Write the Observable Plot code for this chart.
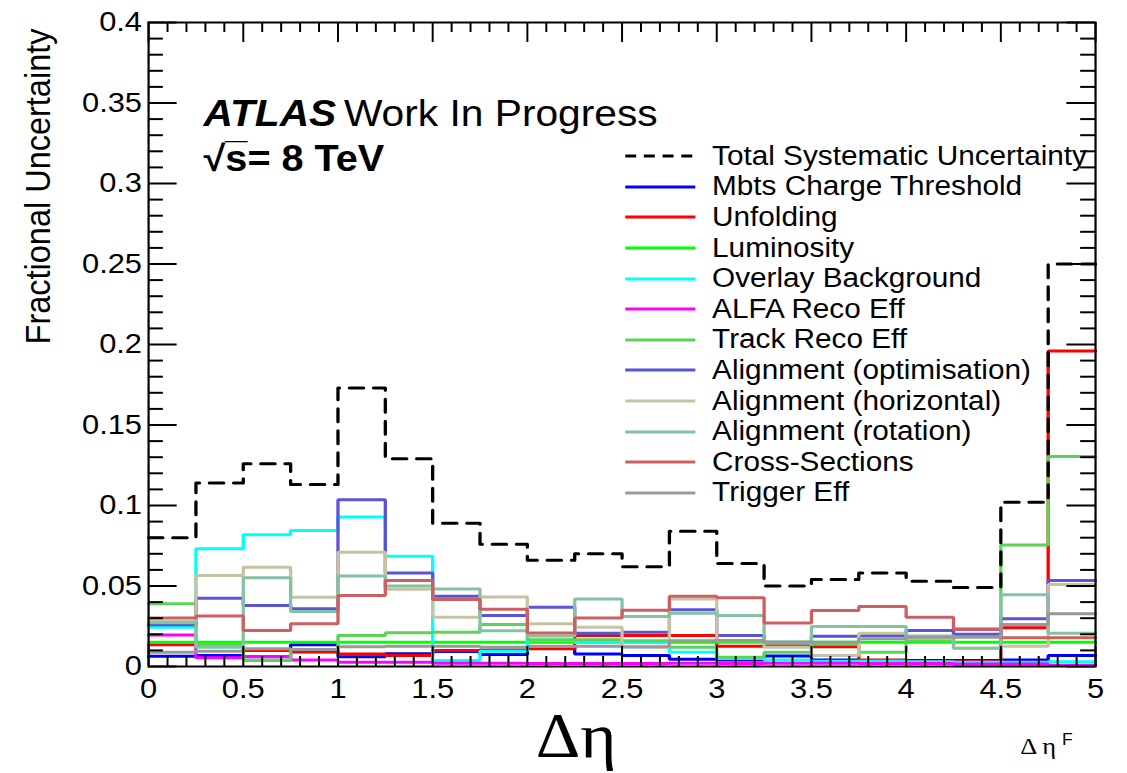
<!DOCTYPE html>
<html>
<head>
<meta charset="utf-8">
<script src="https://cdn.jsdelivr.net/npm/d3@7"></script>
<script src="https://cdn.jsdelivr.net/npm/@observablehq/plot@0.6"></script>
<style>
  html, body { margin: 0; padding: 0; background: #fff; }
  /* canvas is laid out at 1024 px and widened to the 1127 px window */
  #wrap { position: relative; width: 1024px; height: 773px; transform: scaleX(1.1006); transform-origin: 0 0;
          font-family: "Liberation Sans", Arial, Helvetica, sans-serif; color: #000; }
  #legend { position: absolute; left: 568px; top: 141px; }
  .row { display: flex; align-items: center; height: 30.6px; font-size: 27px; white-space: nowrap; }
  .row svg { width: 64px; height: 8px; margin-right: 15px; flex: none; }
</style>
</head>
<body>
<div id="wrap"></div>
<script>
// Δη bin edges (lower edge of each bin, width 0.25)
const binLow = [0, 0.25, 0.5, 0.75, 1, 1.25, 1.5, 1.75, 2, 2.25, 2.5, 2.75, 3, 3.25, 3.5, 3.75, 4, 4.25, 4.5, 4.75];
const binHigh = 5;

// fractional uncertainty per bin
const total        = [0.080, 0.114, 0.126, 0.113, 0.173, 0.129, 0.089, 0.076, 0.066, 0.070, 0.062, 0.084, 0.064, 0.050, 0.054, 0.058, 0.053, 0.049, 0.102, 0.250];
const mbts         = [0.0064, 0.0068, 0.0060, 0.0135, 0.0060, 0.0079, 0.0093, 0.0074, 0.0120, 0.0078, 0.0068, 0.0045, 0.0040, 0.0065, 0.0041, 0.0030, 0.0037, 0.0037, 0.0041, 0.0068];
const unfolding    = [0.0135, 0.0130, 0.0100, 0.0090, 0.0077, 0.0068, 0.0099, 0.0102, 0.0110, 0.0193, 0.0193, 0.0193, 0.0126, 0.0130, 0.0122, 0.0040, 0.0030, 0.0030, 0.0240, 0.1960];
const luminosity   = [0.0151, 0.0151, 0.0151, 0.0151, 0.0151, 0.0151, 0.0151, 0.0151, 0.0151, 0.0151, 0.0151, 0.0151, 0.0151, 0.0151, 0.0151, 0.0151, 0.0151, 0.0151, 0.0151, 0.0151];
const overlay      = [0.0244, 0.0731, 0.0818, 0.0845, 0.0928, 0.0685, 0.0037, 0.0095, 0.0161, 0.0151, 0.0151, 0.0089, 0.0050, 0.0040, 0.0033, 0.0033, 0.0030, 0.0027, 0.0027, 0.0030];
const alfaReco     = [0.0195, 0.0055, 0.0062, 0.0041, 0.0027, 0.0027, 0.0020, 0.0020, 0.0018, 0.0018, 0.0018, 0.0020, 0.0018, 0.0020, 0.0020, 0.0018, 0.0018, 0.0015, 0.0015, 0.0008];
const trackReco    = [0.0390, 0.0137, 0.0037, 0.0105, 0.0193, 0.0209, 0.0213, 0.0261, 0.0166, 0.0166, 0.0160, 0.0120, 0.0058, 0.0089, 0.0140, 0.0089, 0.0160, 0.0234, 0.0754, 0.1304];
const alignOpt     = [0.0260, 0.0424, 0.0379, 0.0358, 0.1035, 0.0580, 0.0437, 0.0317, 0.0368, 0.0207, 0.0213, 0.0352, 0.0193, 0.0150, 0.0188, 0.0193, 0.0224, 0.0200, 0.0296, 0.0534];
const alignHor     = [0.0280, 0.0565, 0.0617, 0.0430, 0.0710, 0.0480, 0.0306, 0.0431, 0.0265, 0.0244, 0.0120, 0.0420, 0.0160, 0.0120, 0.0068, 0.0207, 0.0180, 0.0114, 0.0126, 0.0509];
const alignRot     = [0.0272, 0.0120, 0.0551, 0.0342, 0.0562, 0.0500, 0.0482, 0.0222, 0.0190, 0.0420, 0.0310, 0.0330, 0.0317, 0.0145, 0.0248, 0.0248, 0.0190, 0.0114, 0.0445, 0.0207];
const crossSect    = [0.0302, 0.0313, 0.0224, 0.0265, 0.0441, 0.0534, 0.0416, 0.0355, 0.0208, 0.0302, 0.0350, 0.0436, 0.0427, 0.0270, 0.0348, 0.0373, 0.0306, 0.0230, 0.0178, 0.0178];
const triggerEff   = [0.0089, 0.0095, 0.0110, 0.0106, 0.0122, 0.0126, 0.0126, 0.0120, 0.0124, 0.0126, 0.0122, 0.0160, 0.0161, 0.0151, 0.0151, 0.0172, 0.0182, 0.0182, 0.0261, 0.0327];

const totalName = "Total Systematic Uncertainty";
const sources = [
  {name: "Mbts Charge Threshold",       color: "#0000ff", values: mbts},
  {name: "Unfolding",                   color: "#ff0000", values: unfolding},
  {name: "Luminosity",                  color: "#00ff00", values: luminosity},
  {name: "Overlay Background",          color: "#00ffff", values: overlay},
  {name: "ALFA Reco Eff",               color: "#ff00ff", values: alfaReco},
  {name: "Track Reco Eff",              color: "#59d454", values: trackReco},
  {name: "Alignment (optimisation)",    color: "#5954d8", values: alignOpt},
  {name: "Alignment (horizontal)",      color: "#c8c2a4", values: alignHor},
  {name: "Alignment (rotation)",        color: "#85c2a3", values: alignRot},
  {name: "Cross-Sections",              color: "#cf5e61", values: crossSect},
  {name: "Trigger Eff",                 color: "#999999", values: triggerEff}
];

// axis tick positions and labels
const xMajor = [0, 0.5, 1, 1.5, 2, 2.5, 3, 3.5, 4, 4.5, 5];
const xMinor = [0.1, 0.2, 0.3, 0.4, 0.6, 0.7, 0.8, 0.9, 1.1, 1.2, 1.3, 1.4, 1.6, 1.7, 1.8, 1.9, 2.1, 2.2, 2.3, 2.4,
                2.6, 2.7, 2.8, 2.9, 3.1, 3.2, 3.3, 3.4, 3.6, 3.7, 3.8, 3.9, 4.1, 4.2, 4.3, 4.4, 4.6, 4.7, 4.8, 4.9];
const yMajor = [0, 0.05, 0.1, 0.15, 0.2, 0.25, 0.3, 0.35, 0.4];
const yMinor = [0.01, 0.02, 0.03, 0.04, 0.06, 0.07, 0.08, 0.09, 0.11, 0.12, 0.13, 0.14, 0.16, 0.17, 0.18, 0.19,
                0.21, 0.22, 0.23, 0.24, 0.26, 0.27, 0.28, 0.29, 0.31, 0.32, 0.33, 0.34, 0.36, 0.37, 0.38, 0.39];
const fmt = d => String(+d.toFixed(2));

// histogram outline: one point per lower bin edge plus the closing edge
function steps(name, values) {
  const pts = binLow.map((x, i) => ({series: name, x, y: values[i]}));
  pts.push({series: name, x: binHigh, y: values[values.length - 1]});
  return pts;
}
const sourceRows = sources.flatMap(s => steps(s.name, s.values));
const totalRows = steps(totalName, total);

const W = 1024, H = 773;
const mL = 134.5, mR = 29.1, mT = 22, mB = 107;
const serif = '"Liberation Serif", "Times New Roman", serif';

const chart = Plot.plot({
  width: W, height: H,
  marginLeft: mL, marginRight: mR, marginTop: mT, marginBottom: mB,
  x: {domain: [0, 5], axis: null},
  y: {domain: [0, 0.4], axis: null},
  color: {domain: sources.map(s => s.name), range: sources.map(s => s.color)},
  style: {fontFamily: '"Liberation Sans", Arial, Helvetica, sans-serif', background: "white", color: "black", overflow: "visible"},
  marks: [
    Plot.line(sourceRows, {x: "x", y: "y", z: "series", stroke: "series", curve: "step-after", strokeWidth: 3, strokeLinejoin: "miter"}),
    Plot.line(totalRows, {x: "x", y: "y", curve: "step-after", stroke: "black", strokeWidth: 3, strokeDasharray: "13,9"}),

    // ticks pointing into the frame on all four sides
    Plot.ruleY(yMajor, {x1: 0, x2: 0, insetRight: -26, stroke: "black", strokeWidth: 2}),
    Plot.ruleY(yMinor, {x1: 0, x2: 0, insetRight: -13.5, stroke: "black", strokeWidth: 2}),
    Plot.ruleY(yMajor, {x1: 5, x2: 5, insetLeft: -26, stroke: "black", strokeWidth: 2}),
    Plot.ruleY(yMinor, {x1: 5, x2: 5, insetLeft: -13.5, stroke: "black", strokeWidth: 2}),
    Plot.ruleX(xMajor, {y1: 0, y2: 0, insetBottom: 20, stroke: "black", strokeWidth: 1.8}),
    Plot.ruleX(xMinor, {y1: 0, y2: 0, insetBottom: 10, stroke: "black", strokeWidth: 1.8}),
    Plot.ruleX(xMajor, {y1: 0.4, y2: 0.4, insetTop: 20, stroke: "black", strokeWidth: 1.8}),
    Plot.ruleX(xMinor, {y1: 0.4, y2: 0.4, insetTop: 10, stroke: "black", strokeWidth: 1.8}),
    Plot.frame({stroke: "black", strokeWidth: 2}),

    Plot.axisX(xMajor, {tickSize: 0, tickPadding: 12, tickFormat: fmt, fontSize: 28, label: null}),
    Plot.axisY(yMajor, {tickSize: 0, tickPadding: 6, tickFormat: fmt, fontSize: 28, label: null}),

    Plot.text(["Fractional Uncertainty"], {frameAnchor: "top-left", dx: -112.5, dy: 6, rotate: -90, textAnchor: "end", fontSize: 32.5}),
    Plot.text(["Δη"], {frameAnchor: "bottom-left", dx: 388.5, dy: 90, textAnchor: "middle", lineAnchor: "bottom", fontSize: 63, fontFamily: serif}),
    Plot.text(["Δ η"], {frameAnchor: "bottom-left", dx: 792, dy: 87, textAnchor: "start", lineAnchor: "bottom", fontSize: 24, fontFamily: serif}),
    Plot.text(["F"], {frameAnchor: "bottom-left", dx: 830, dy: 78, textAnchor: "start", lineAnchor: "bottom", fontSize: 16}),

    Plot.text(["ATLAS"], {frameAnchor: "top-left", dx: 50, dy: 103, textAnchor: "start", lineAnchor: "bottom", fontSize: 37, fontWeight: "bold", fontStyle: "italic"}),
    Plot.text(["Work In Progress"], {frameAnchor: "top-left", dx: 177.5, dy: 103, textAnchor: "start", lineAnchor: "bottom", fontSize: 37}),
    Plot.text(["√s\u0305= 8 TeV"], {frameAnchor: "top-left", dx: 50, dy: 148, textAnchor: "start", lineAnchor: "bottom", fontSize: 36, fontWeight: "bold"})
  ]
});

const wrap = document.getElementById("wrap");
wrap.appendChild(chart);

// legend: dashed total first, then each source
const legend = document.createElement("div");
legend.id = "legend";
const entries = [{name: totalName, color: "black", dash: "10,7"}, ...sources];
for (const e of entries) {
  const row = document.createElement("div");
  row.className = "row";
  row.innerHTML = `<svg viewBox="0 0 64 8"><line x1="0" y1="4" x2="64" y2="4" stroke="${e.color}" stroke-width="3"${e.dash ? ` stroke-dasharray="${e.dash}"` : ""}/></svg><span>${e.name}</span>`;
  legend.appendChild(row);
}
wrap.appendChild(legend);
</script>
</body>
</html>
